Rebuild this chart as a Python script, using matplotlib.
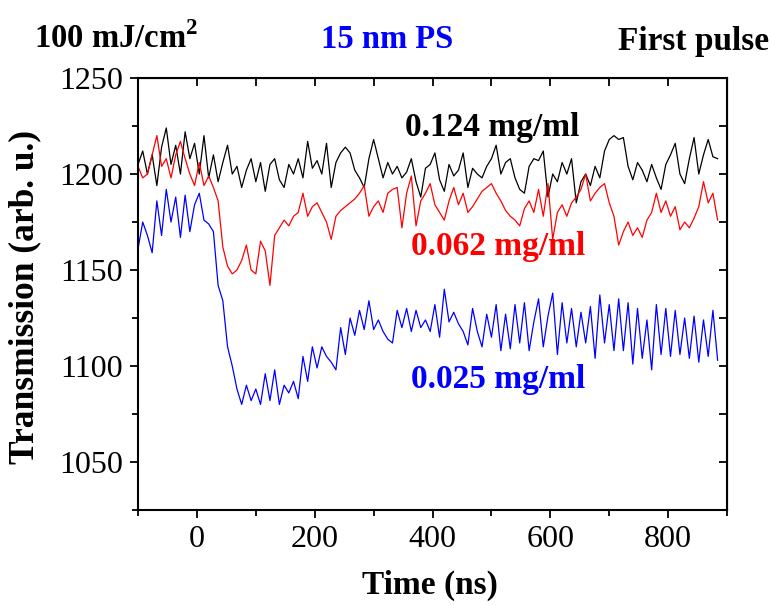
import numpy as np
import matplotlib
matplotlib.use("Agg")
import matplotlib.pyplot as plt
from matplotlib.ticker import MultipleLocator

plt.rcParams['font.family'] = ['Liberation Serif', 'DejaVu Serif']
plt.rcParams['mathtext.fontset'] = 'custom'
plt.rcParams['mathtext.rm'] = 'Liberation Serif'
plt.rcParams['mathtext.bf'] = 'Liberation Serif:bold'

# time axis of the scope traces (ns)
time_ns = np.arange(-100, 885, 8)

# 0.124 mg/ml trace
trans_0124 = [
    1205, 1212, 1200, 1210, 1194, 1214, 1224, 1205, 1215, 1200, 1222, 1208, 1216,
    1200, 1220, 1198, 1210, 1196, 1206, 1215, 1200, 1204, 1193, 1202, 1208, 1196,
    1206, 1191, 1205, 1208, 1197, 1193, 1205, 1200, 1208, 1198, 1217, 1203, 1207,
    1200, 1216, 1193, 1206, 1211, 1214, 1211, 1202, 1198, 1193, 1208, 1218, 1208,
    1198, 1206, 1200, 1204, 1198, 1201, 1208, 1196, 1188, 1203, 1205, 1211, 1197,
    1191, 1205, 1199, 1202, 1211, 1193, 1203, 1200, 1198, 1204, 1208, 1215, 1200,
    1206, 1208, 1198, 1192, 1190, 1204, 1208, 1207, 1212, 1188, 1200, 1196, 1206,
    1200, 1208, 1185, 1196, 1200, 1194, 1204, 1198, 1212, 1218, 1220, 1218, 1219,
    1204, 1197, 1206, 1202, 1196, 1205, 1198, 1192, 1205, 1210, 1216, 1200, 1195,
    1208, 1219, 1200, 1210, 1218, 1209, 1208,
]

# 0.062 mg/ml trace
trans_0062 = [
    1204, 1198, 1200, 1210, 1220, 1204, 1208, 1198, 1210, 1217, 1208, 1200, 1194,
    1206, 1194, 1199, 1193, 1186, 1162, 1152, 1148, 1150, 1155, 1163, 1150, 1148,
    1165, 1160, 1142, 1168, 1172, 1176, 1173, 1178, 1180, 1190, 1178, 1183, 1185,
    1180, 1175, 1166, 1178, 1181, 1183, 1185, 1187, 1190, 1194, 1178, 1183, 1186,
    1180, 1190, 1192, 1193, 1172, 1190, 1199, 1173, 1186, 1190, 1195, 1184, 1180,
    1176, 1186, 1193, 1184, 1190, 1180, 1183, 1187, 1191, 1193, 1195, 1190, 1186,
    1181, 1178, 1176, 1173, 1182, 1186, 1180, 1192, 1178, 1195, 1166, 1180, 1184,
    1178, 1185, 1188, 1192, 1200, 1186, 1190, 1193, 1195, 1185, 1178, 1163, 1170,
    1175, 1168, 1172, 1167, 1176, 1180, 1190, 1180, 1186, 1178, 1183, 1171, 1175,
    1172, 1177, 1183, 1196, 1185, 1190, 1176,
]

# 0.025 mg/ml trace
trans_0025 = [
    1161, 1175, 1168, 1159, 1186, 1168, 1192, 1175, 1188, 1167, 1189, 1170, 1184,
    1190, 1176, 1174, 1170, 1142, 1134, 1110, 1100, 1088, 1080, 1090, 1082, 1088,
    1080, 1096, 1082, 1098, 1080, 1090, 1086, 1092, 1083, 1105, 1092, 1110, 1099,
    1110, 1105, 1102, 1098, 1120, 1106, 1125, 1116, 1129, 1119, 1134, 1119, 1124,
    1118, 1114, 1112, 1129, 1120, 1130, 1118, 1129, 1120, 1124, 1118, 1132, 1115,
    1140, 1123, 1128, 1122, 1118, 1111, 1130, 1118, 1110, 1127, 1115, 1132, 1108,
    1127, 1109, 1132, 1112, 1133, 1108, 1123, 1135, 1110, 1126, 1138, 1106, 1133,
    1112, 1130, 1110, 1128, 1112, 1131, 1104, 1137, 1112, 1132, 1108, 1135, 1108,
    1133, 1101, 1130, 1104, 1124, 1098, 1132, 1106, 1130, 1105, 1129, 1106, 1125,
    1104, 1126, 1102, 1124, 1105, 1129, 1103,
]

series = [
    (trans_0124, 'black', '0.124 mg/ml', 354, 1224),
    (trans_0062, 'red', '0.062 mg/ml', 363, 1162),
    (trans_0025, 'blue', '0.025 mg/ml', 363, 1093),
]

fig = plt.figure(figsize=(7.71, 6.05), dpi=100)
ax = fig.add_axes([0.179, 0.157, 0.764, 0.714])

for values, color, label, lx, ly in series:
    ax.plot(time_ns, values, color=color, lw=0.9, solid_joinstyle='round')
    ax.text(lx, ly, label, color=color, fontsize=24, fontweight='bold',
            ha='left', va='center')

ax.set_xlim(-100, 900)
ax.set_ylim(1025, 1250)
ax.xaxis.set_major_locator(MultipleLocator(200))
ax.xaxis.set_minor_locator(MultipleLocator(100))
ax.yaxis.set_major_locator(MultipleLocator(50))
ax.yaxis.set_minor_locator(MultipleLocator(25))

for sp in ax.spines.values():
    sp.set_linewidth(1.5)

ax.tick_params(which='both', direction='out', width=1.3, labelsize=23, pad=5)
ax.tick_params(which='major', length=6)
ax.tick_params(which='minor', length=4)

# inward ticks on the top and right frames
top = ax.secondary_xaxis('top')
top.xaxis.set_major_locator(MultipleLocator(100))
top.tick_params(direction='in', length=6, width=1.3, labeltop=False)
right = ax.secondary_yaxis('right')
right.yaxis.set_major_locator(MultipleLocator(25))
right.tick_params(direction='in', length=6, width=1.3, labelright=False)

fig.text(0.558, 0.033, 'Time (ns)', fontsize=24, fontweight='bold',
         ha='center', va='center')
fig.text(0.032, 0.509, 'Transmission (arb. u.)', fontsize=25.5, fontweight='bold',
         ha='center', va='center', rotation=90)

fig.text(0.044, 0.921, r'100 mJ/cm$^{\mathbf{2}}$', fontsize=23.5, fontweight='bold',
         ha='left', va='baseline')
fig.text(0.502, 0.921, '15 nm PS', fontsize=23.5, fontweight='bold', color='blue',
         ha='center', va='baseline')
fig.text(0.997, 0.917, 'First pulse', fontsize=24, fontweight='bold',
         ha='right', va='baseline')

fig.savefig('out.png', dpi=100)
